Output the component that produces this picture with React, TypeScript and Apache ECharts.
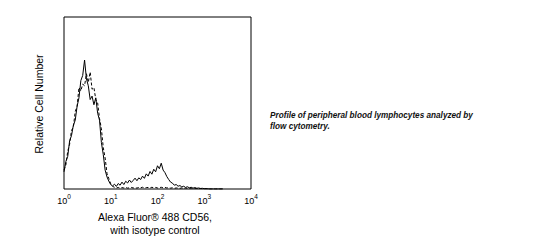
import React, { useEffect, useRef } from "react";
import * as echarts from "echarts";

// log10 of fluorescence channel
const decades = [
  0, 0.04, 0.08, 0.12, 0.16, 0.2, 0.24, 0.28, 0.32, 0.36, 0.4, 0.44, 0.48, 0.52, 0.56, 0.6, 0.64, 0.68, 0.72, 0.76,
  0.8, 0.84, 0.88, 0.92, 0.96, 1.0, 1.04, 1.08, 1.12, 1.16, 1.2, 1.24, 1.28, 1.32, 1.36, 1.4, 1.44, 1.48, 1.52, 1.56,
  1.6, 1.64, 1.68, 1.72, 1.76, 1.8, 1.84, 1.88, 1.92, 1.96, 2.0, 2.04, 2.08, 2.12, 2.16, 2.2, 2.24, 2.28, 2.32, 2.36,
  2.4, 2.44, 2.48, 2.52, 2.56, 2.6, 2.64, 2.68, 2.72, 2.76, 2.8, 2.84, 2.88, 2.92, 2.96, 3.0, 3.04, 3.08, 3.12, 3.16,
  3.2, 3.24, 3.28, 3.32, 3.36, 3.4,
];

// CD56 stained (solid)
const cd56 = [
  10, 16, 19, 28, 31, 37, 40, 48, 53, 63, 66, 75,
  64, 60, 52, 54, 49, 53, 44, 40, 27, 20, 11, 7,
  4.5, 2.5, 1.8, 2.8, 1.5, 3.2, 2.2, 4.0, 2.6, 4.5, 3.5, 5.2,
  3.8, 5.0, 6.3, 4.8, 6.5, 5.5, 7.5, 6.2, 8.8, 7.5, 10.2, 8.6,
  11.5, 10.0, 13.5, 11.8, 15.0, 11.0, 9.5, 7.2, 5.5, 4.0, 3.4, 2.2,
  2.6, 1.6, 2.0, 1.2, 1.6, 0.9, 1.3, 0.7, 1.0, 0.5, 0.8, 0.4,
  0.6, 0.3, 0.4, 0.2, 0.2, 0.1, 0, 0, 0, 0, 0, 0, 0, 0,
];

// isotype control (dashed)
const isotype = [
  11, 14, 22, 26, 34, 36, 45, 48, 59, 57, 61, 60,
  67, 62, 68, 58, 59, 52, 50, 41, 35, 24, 18, 9,
  6, 3, 1.5, 1.0, 0.6, 0.9, 0.5, 0.8, 0.6, 0.9, 0.5, 0.7,
  0.9, 0.6, 0.8, 0.5, 0.9, 0.7, 1.0, 0.6, 0.8, 0.9, 0.6, 1.0,
  0.7, 0.9, 0.6, 0.8, 1.0, 0.7, 0.9, 0.6, 0.8, 0.5, 0.7, 0.4,
  0.6, 0.5, 0.4, 0.6, 0.3, 0.5, 0.4, 0.3, 0.5, 0.2, 0.4, 0.3,
  0.2, 0.3, 0.2, 0.1, 0.2, 0.1, 0, 0, 0, 0, 0, 0, 0, 0,
];

const xTitle = ["Alexa Fluor® 488 CD56,", "with isotype control"];
const yTitle = "Relative Cell Number";
const caption = ["Profile of peripheral blood lymphocytes analyzed by", "flow cytometry."];

export default function App() {
  const ref = useRef<HTMLDivElement>(null);
  useEffect(() => {
    if (!ref.current) return;
    const chart = echarts.init(ref.current, null, { renderer: "svg" });
    const font = "Liberation Sans, Arial, sans-serif";
    chart.setOption({
      animation: false,
      grid: {
        left: 64,
        top: 17,
        width: 187,
        height: 172,
        show: true,
        borderColor: "#000",
        borderWidth: 1,
        backgroundColor: "transparent",
      },
      xAxis: {
        type: "log",
        logBase: 10,
        min: 1,
        max: 10000,
        axisLine: { show: false },
        axisTick: { show: false },
        splitLine: { show: false },
        minorTick: { show: false },
        axisLabel: {
          margin: 4,
          fontFamily: font,
          formatter: (v: number) => `{b|10}{s|${Math.round(Math.log10(v))}}`,
          rich: {
            b: { fontSize: 9, color: "#000", fontFamily: font, lineHeight: 12, verticalAlign: "bottom" },
            s: { fontSize: 6.5, color: "#000", fontFamily: font, lineHeight: 12, verticalAlign: "top" },
          },
        },
      },
      yAxis: {
        type: "value",
        min: 0,
        max: 100,
        show: false,
        splitLine: { show: false },
      },
      series: [
        {
          type: "line",
          showSymbol: false,
          data: decades.map((d, i) => [Math.pow(10, d), cd56[i]]),
          lineStyle: { color: "#000", width: 1 },
          itemStyle: { color: "#000" },
        },
        {
          type: "line",
          showSymbol: false,
          data: decades.map((d, i) => [Math.pow(10, d), isotype[i]]),
          lineStyle: { color: "#000", width: 1, type: [3, 2] },
          itemStyle: { color: "#000" },
        },
      ],
      graphic: [
        {
          type: "text",
          x: 39,
          y: 104,
          rotation: Math.PI / 2,
          style: {
            text: yTitle,
            fontSize: 10.5,
            fontFamily: font,
            fill: "#000",
            align: "center",
            verticalAlign: "middle",
          },
        },
        {
          type: "text",
          x: 155,
          y: 217,
          style: {
            text: xTitle[0],
            fontSize: 10.5,
            fontFamily: font,
            fill: "#000",
            align: "center",
            verticalAlign: "middle",
          },
        },
        {
          type: "text",
          x: 155,
          y: 230,
          style: {
            text: xTitle[1],
            fontSize: 10.5,
            fontFamily: font,
            fill: "#000",
            align: "center",
            verticalAlign: "middle",
          },
        },
        {
          type: "text",
          x: 270,
          y: 115,
          style: {
            text: caption[0],
            fontSize: 8.2,
            fontWeight: "bold",
            fontStyle: "italic",
            fontFamily: font,
            fill: "#111",
            align: "left",
            verticalAlign: "middle",
          },
        },
        {
          type: "text",
          x: 270,
          y: 126,
          style: {
            text: caption[1],
            fontSize: 8.2,
            fontWeight: "bold",
            fontStyle: "italic",
            fontFamily: font,
            fill: "#111",
            align: "left",
            verticalAlign: "middle",
          },
        },
      ],
    });
    return () => chart.dispose();
  }, []);
  return (
    <div
      ref={ref}
      style={{ width: 551, height: 240, position: "fixed", left: 0, top: 0, background: "#fff" }}
    />
  );
}
